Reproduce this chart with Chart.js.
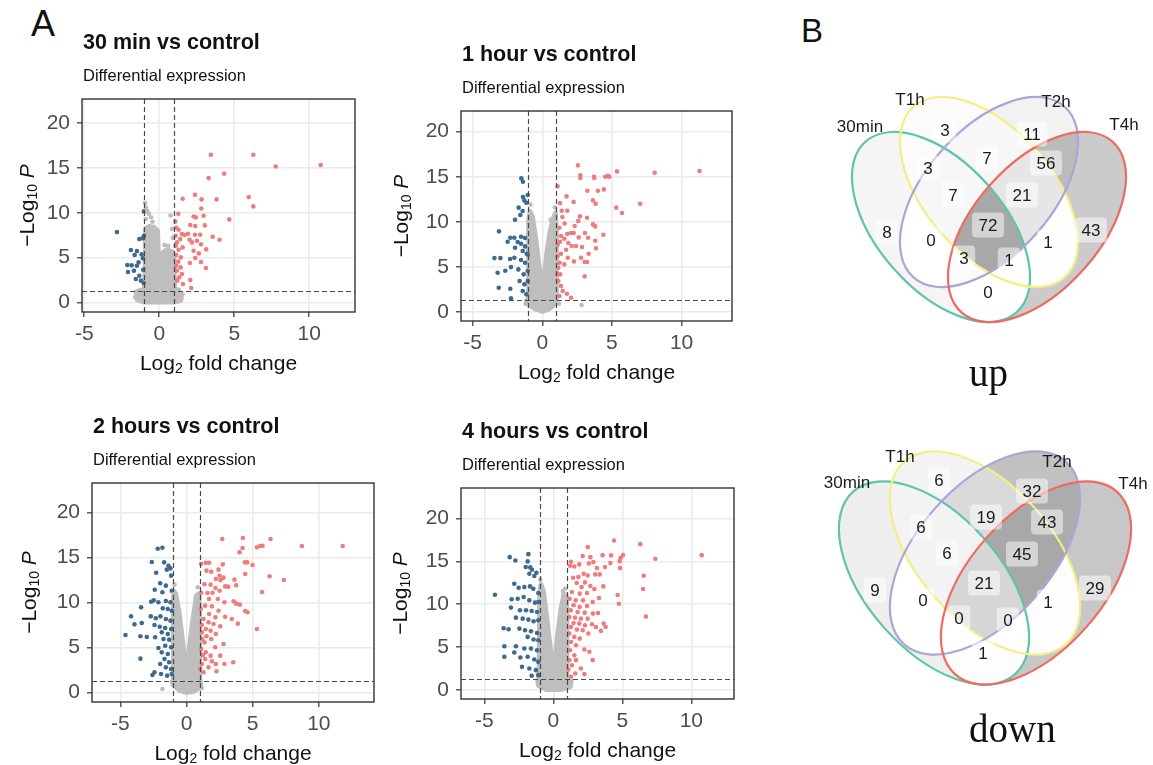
<!DOCTYPE html>
<html>
<head>
<meta charset="utf-8">
<title>Differential expression</title>
<script src="https://cdn.jsdelivr.net/npm/chart.js@4.4.1/dist/chart.umd.min.js"></script>
<style>
  body { margin: 0; background: #fff; }
  #fig { position: relative; width: 1153px; height: 765px; overflow: hidden; background: #fff; }
  #fig canvas { position: absolute; }
  .tag { position: absolute; line-height: 1; color: #111; font-family: "Liberation Sans", Arial, sans-serif; }
  .cap { position: absolute; line-height: 1; color: #111; font-family: "Liberation Serif", "Times New Roman", serif; font-size: 39px; }
</style>
</head>
<body>
<div id="fig">
  <div class="tag" style="left:31px;top:6px;font-size:36px">A</div>
  <div class="tag" style="left:801px;top:14px;font-size:33px">B</div>
  <canvas id="v30"></canvas>
  <canvas id="v1h"></canvas>
  <canvas id="v2h"></canvas>
  <canvas id="v4h"></canvas>
  <canvas id="vennUp"></canvas>
  <canvas id="vennDown"></canvas>
  <div class="cap" style="left:969px;top:353px">up</div>
  <div class="cap" style="left:969px;top:709px">down</div>
</div>

<script>
// ---- data ----

const xTicks = [-5, 0, 5, 10];
const yTicks = [0, 5, 10, 15, 20];
const fcCutoff = 1;      // |log2 FC|
const pCutoff = 1.3;     // -log10(0.05)

const titles = ["30 min vs control", "1 hour vs control", "2 hours vs control", "4 hours vs control"];
const subtitle = "Differential expression";

// 30 min
const up30 = [[3.44,16.47],[6.27,16.47],[7.76,15.17],[10.76,15.32],[4.33,14.35],[3.29,13.87],[1.56,11.56],[2.38,12.0],[2.82,11.49],[3.82,11.49],[5.96,11.75],[6.27,10.71],[1.27,9.89],[2.8,10.48],[2.29,9.59],[2.44,9.48],[2.96,9.67],[4.67,9.26],[1.07,9.03],[2.07,8.62],[2.4,8.51],[3.04,8.59],[1.13,8.33],[1.29,8.1],[1.91,7.66],[1.69,7.51],[1.51,7.62],[2.38,7.55],[2.73,7.55],[3.56,7.32],[4.02,6.99],[1.4,7.06],[2.02,6.99],[2.18,6.69],[2.51,6.88],[2.78,6.47],[3.13,5.91],[1.18,6.69],[1.56,6.13],[1.29,5.87],[2.29,5.76],[2.64,5.46],[1.13,5.28],[1.44,5.02],[2.4,4.94],[2.04,4.39],[2.78,4.5],[3.11,3.83],[1.27,4.54],[1.42,3.9],[1.18,3.53],[1.51,3.16],[1.33,2.79],[2.07,2.49],[1.58,2.04],[2.13,1.6],[1.2,2.42],[1.09,7.43],[1.09,6.32],[1.13,4.09]];
const down30 = [[-2.82,7.84],[-1.02,10.15],[-1.11,7.14],[-1.33,7.06],[-1.02,7.43],[-1.89,5.84],[-1.49,5.72],[-1.64,5.28],[-1.18,5.35],[-1.09,4.91],[-2.13,4.16],[-1.84,4.13],[-2.09,3.38],[-1.69,3.53],[-1.56,2.6],[-1.33,2.97],[-1.07,3.64],[-1.04,2.16],[-1.49,4.09],[-1.22,2.42],[-1.38,4.46]];
const ns30 = [[-0.95,11.1],[-0.88,10.6],[-0.8,10.2],[-0.7,9.9],[-0.55,9.5],[-0.9,9.3],[-0.45,9.0],[0.75,9.7],[0.85,8.2],[0.9,7.2],[0.35,6.4],[0.6,6.3],[-1.3,1.0],[-1.6,0.6],[1.5,0.5],[1.55,0.9],[-1.35,0.2],[1.3,1.4]];
const cloud30 = [[-0.93,8.2],[-0.7,8.5],[-0.35,8.4],[-0.1,8.0],[0.0,2.6],[0.12,2.8],[0.2,5.5],[0.5,5.9],[0.85,5.7],[1.0,5.0],[1.02,1.6],[1.4,1.1],[1.45,0.2],[1.0,0.0],[-1.0,0.0],[-1.5,0.3],[-1.55,1.2],[-1.0,1.5],[-0.95,4.0]];

// 1 hour
const up1h = [[2.56,16.26],[2.73,15.15],[2.73,14.85],[3.71,15.0],[3.73,14.85],[4.52,15.0],[4.71,15.11],[4.81,15.0],[5.36,15.59],[8.06,15.44],[11.29,15.63],[1.1,13.93],[3.23,13.44],[3.99,13.44],[4.42,13.59],[1.74,12.81],[1.27,12.07],[2.25,12.19],[3.64,12.37],[3.83,12.0],[5.31,11.56],[7.03,12.0],[5.72,10.96],[1.39,11.22],[1.79,11.22],[2.7,10.59],[3.21,10.44],[1.44,10.52],[2.58,10.07],[1.6,9.81],[3.64,9.7],[3.8,9.48],[1.22,9.33],[2.32,9.52],[2.06,8.74],[2.25,8.74],[1.79,8.63],[4.38,8.56],[3.06,8.74],[1.34,8.41],[2.61,8.26],[1.58,8.11],[3.28,8.22],[3.8,7.89],[2.42,7.3],[2.85,7.19],[3.85,7.04],[1.27,7.78],[1.87,7.63],[1.1,7.48],[2.11,7.3],[1.71,6.89],[3.33,6.44],[2.78,6.0],[2.27,5.59],[3.04,5.52],[3.21,5.52],[1.1,6.19],[1.34,6.44],[1.82,6.0],[1.24,5.44],[1.15,4.89],[3.04,3.93],[1.29,4.15],[1.15,3.41],[1.34,2.85],[1.46,2.3],[1.77,2.0],[2.06,1.56],[1.22,1.74],[1.1,4.15],[1.58,5.26]];
const down1h = [[-1.51,14.81],[-1.39,14.44],[-1.05,12.96],[-1.39,12.74],[-1.29,12.37],[-1.15,12.11],[-1.7,11.56],[-1.41,11.19],[-1.58,10.74],[-1.96,10.22],[-3.11,8.93],[-2.3,8.22],[-2.01,8.22],[-1.53,8.33],[-1.24,8.19],[-2.49,7.78],[-1.77,7.74],[-1.53,7.56],[-1.24,7.26],[-1.96,7.11],[-1.41,6.74],[-1.12,6.44],[-3.44,5.96],[-3.01,5.96],[-2.32,5.85],[-2.01,6.0],[-1.53,5.74],[-1.24,5.44],[-2.25,4.96],[-3.21,4.33],[-2.66,4.56],[-1.72,4.7],[-1.34,4.15],[-1.05,4.52],[-1.63,3.41],[-1.29,3.04],[-3.13,2.67],[-2.3,2.56],[-1.41,2.3],[-1.15,1.93],[-2.25,1.48],[-1.05,3.41],[-1.05,6.37]];
const ns1h = [[2.82,0.74],[-0.85,11.9],[0.9,11.6],[0.75,9.7],[-0.8,9.6],[-1.2,0.9],[1.2,0.9],[-0.95,10.6],[0.6,10.2]];
const cloud1h = [[-1.0,1.5],[-1.0,10.0],[-0.9,11.2],[-0.7,10.6],[-0.45,8.0],[-0.2,5.0],[-0.05,3.0],[0.1,3.5],[0.3,6.5],[0.55,9.0],[0.8,10.5],[0.95,11.0],[1.02,9.0],[1.02,1.5],[0.9,0.8],[0.5,0.3],[0.0,0.0],[-0.5,0.3],[-1.0,0.8],[-1.15,1.2]];

// 2 hours
const up2h = [[2.7,17.07],[4.26,17.19],[6.35,17.07],[4.24,16.07],[5.32,16.15],[5.57,16.3],[5.75,16.33],[8.72,16.3],[11.8,16.3],[4.01,15.59],[4.41,14.48],[4.59,14.48],[4.99,14.19],[1.11,14.33],[1.46,14.44],[1.71,14.44],[2.75,14.26],[1.51,13.56],[1.87,13.44],[2.42,13.67],[4.44,13.19],[6.28,12.93],[7.36,12.52],[2.5,12.99],[2.8,12.78],[2.22,12.63],[2.57,12.52],[2.92,11.81],[3.15,11.78],[3.63,12.56],[3.76,11.93],[1.82,12.0],[1.36,12.04],[2.19,11.63],[5.72,11.19],[1.11,11.11],[1.59,11.07],[1.97,11.11],[2.5,11.33],[1.71,10.41],[2.37,10.41],[2.87,10.04],[3.56,10.15],[3.76,9.89],[4.04,9.78],[4.44,9.07],[4.61,8.93],[1.41,9.67],[1.92,9.59],[1.08,9.3],[2.42,9.11],[1.71,8.74],[2.19,8.37],[2.92,8.44],[3.43,8.19],[1.29,8.19],[1.66,7.81],[2.04,7.63],[1.16,7.52],[3.88,7.67],[5.32,7.07],[2.55,7.37],[1.46,7.07],[1.82,6.89],[1.16,6.7],[2.22,6.52],[1.51,6.26],[1.87,5.96],[1.19,5.96],[1.36,5.59],[2.17,5.04],[2.8,5.41],[1.11,4.85],[1.46,4.48],[1.82,4.11],[1.24,4.19],[2.55,4.11],[1.41,3.74],[1.92,3.48],[2.22,3.19],[2.87,3.19],[3.53,3.37],[1.16,3.19],[1.66,2.81],[2.27,2.37],[1.29,2.26],[1.03,2.63]];
const down2h = [[-2.17,16.0],[-1.82,16.11],[-2.62,14.52],[-1.69,14.48],[-1.36,14.11],[-1.21,13.81],[-1.49,13.67],[-1.16,13.0],[-2.29,13.33],[-1.99,12.15],[-1.56,11.89],[-2.4,11.44],[-1.11,11.33],[-1.82,11.15],[-2.47,10.26],[-2.67,10.11],[-2.12,10.04],[-1.56,10.19],[-1.21,10.04],[-3.43,9.48],[-1.79,9.37],[-1.41,9.3],[-1.11,9.11],[-4.19,8.48],[-2.7,8.48],[-2.32,8.26],[-1.97,8.48],[-1.56,8.19],[-1.21,8.0],[-3.93,7.59],[-3.38,7.74],[-2.42,7.52],[-2.02,7.33],[-1.61,7.19],[-1.16,7.07],[-1.87,6.7],[-1.41,6.52],[-4.61,6.41],[-3.48,6.26],[-3.0,6.19],[-2.37,6.15],[-1.74,5.96],[-1.31,5.89],[-2.12,4.96],[-1.61,5.22],[-1.16,5.04],[-1.87,4.48],[-1.41,4.3],[-3.48,3.78],[-1.66,3.74],[-1.31,3.37],[-1.99,3.19],[-1.56,2.81],[-1.16,2.63],[-2.57,1.96],[-2.42,2.26],[-1.92,2.07],[-1.46,1.89],[-1.11,2.07]];
const ns2h = [[-1.82,0.41],[1.15,0.5],[1.1,1.0],[-0.9,12.0],[0.85,11.7],[-1.1,1.2],[-0.95,11.0],[0.7,10.6]];
const cloud2h = [[-1.0,1.5],[-1.0,10.5],[-0.95,11.3],[-0.8,11.0],[-0.55,9.0],[-0.3,6.0],[-0.1,3.5],[0.05,3.0],[0.2,5.0],[0.45,8.0],[0.75,10.8],[0.95,11.0],[1.0,9.5],[1.02,1.5],[1.1,0.6],[0.5,0.1],[0.0,0.0],[-0.5,0.2],[-1.05,0.9]];

// 4 hours
const up4h = [[4.4,17.44],[6.3,17.02],[2.49,16.67],[10.75,15.73],[7.39,15.31],[2.13,15.62],[2.68,15.5],[3.57,15.73],[4.18,15.7],[4.88,15.42],[5.05,15.73],[4.81,15.03],[1.28,14.96],[1.21,14.49],[1.52,14.41],[1.88,14.65],[2.58,14.76],[2.9,14.92],[3.16,14.22],[3.74,14.34],[4.13,14.8],[4.83,14.22],[2.2,13.56],[2.49,13.36],[3.04,13.48],[3.36,13.48],[6.55,13.33],[1.43,13.09],[1.81,13.17],[3.62,12.08],[2.97,11.77],[2.68,12.12],[2.29,12.55],[1.69,12.47],[6.5,11.77],[2.05,12.0],[1.35,11.42],[1.91,11.23],[2.44,11.31],[4.66,11.07],[3.31,10.72],[1.18,10.64],[1.62,10.45],[2.15,10.45],[2.85,10.26],[4.75,10.06],[1.47,9.87],[1.91,9.67],[2.44,9.79],[1.26,9.29],[1.76,9.09],[2.27,9.01],[2.87,8.9],[3.24,8.97],[6.71,8.55],[1.16,8.51],[1.57,8.43],[2.0,8.31],[2.49,8.31],[1.47,7.81],[1.88,7.73],[2.29,7.54],[2.8,7.65],[3.09,7.34],[3.65,7.73],[3.79,7.34],[3.45,6.88],[1.28,7.34],[1.71,7.03],[2.13,6.95],[2.54,6.57],[1.16,6.57],[1.52,6.18],[1.91,5.98],[1.28,5.59],[1.64,5.21],[2.25,4.7],[2.61,4.43],[1.21,4.62],[1.52,4.04],[1.16,3.46],[1.64,3.46],[2.85,3.46],[1.35,2.87],[2.0,2.49],[1.09,2.37],[1.59,1.9],[2.25,1.83],[1.28,1.52]];
const down4h = [[-3.16,15.5],[-1.81,15.85],[-2.75,15.11],[-1.86,15.0],[-2.0,14.34],[-1.67,14.3],[-1.55,14.03],[-1.23,13.68],[-1.38,13.29],[-1.74,13.56],[-2.83,12.39],[-2.51,11.93],[-2.1,12.0],[-1.69,12.08],[-1.45,11.81],[-1.09,11.31],[-4.23,11.11],[-3.02,10.57],[-2.58,10.64],[-2.15,10.84],[-1.74,10.45],[-1.33,10.18],[-1.09,10.26],[-3.07,9.6],[-2.42,9.29],[-1.98,9.29],[-1.57,9.21],[-1.18,9.09],[-2.71,8.43],[-2.22,8.31],[-1.81,8.2],[-1.43,8.0],[-1.09,8.12],[-3.6,7.19],[-3.24,7.07],[-2.46,7.15],[-2.05,6.95],[-1.62,6.84],[-1.18,6.64],[-1.86,6.18],[-1.43,5.87],[-1.09,5.79],[-3.55,5.09],[-2.71,5.09],[-2.1,4.82],[-1.62,4.82],[-1.18,4.62],[-3.55,3.85],[-2.83,4.35],[-2.39,3.77],[-1.86,3.85],[-1.38,3.54],[-1.09,3.26],[-2.27,2.68],[-1.74,2.49],[-1.26,2.29],[-1.57,1.63],[-1.09,1.71]];
const ns4h = [[-0.95,12.9],[0.85,11.8],[1.3,1.1],[-1.15,0.9],[1.25,0.4],[-0.98,11.8],[0.7,11.5]];
const cloud4h = [[-1.05,1.5],[-1.0,11.0],[-0.9,12.4],[-0.7,11.5],[-0.5,9.0],[-0.25,5.5],[-0.05,3.0],[0.1,3.0],[0.3,6.5],[0.55,9.5],[0.75,11.2],[0.95,11.0],[1.0,9.0],[1.0,1.5],[1.3,0.8],[1.2,0.3],[0.5,0.0],[-0.5,0.0],[-1.1,0.5]];

// Venn: region key = membership in [30min, T1h, T2h, T4h]
const vennSets = ["30min", "T1h", "T2h", "T4h"];
const regions = ["1000","0100","0010","0001","1100","1010","1001","0110","0101","0011","1110","1101","1011","0111","1111"];
const upCounts   = [8, 3, 11, 43, 3, 0, 0, 7, 1, 56, 7, 1, 3, 21, 72];
const downCounts = [9, 6, 32, 29, 6, 0, 1, 19, 1, 43, 6, 0, 0, 45, 21];

// ---- layout ----

const GREY = "#bebebe", BLUE = "#3e6a8f", RED = "#ef7c7c";
const SANS = "'Liberation Sans', Arial, sans-serif";
Chart.defaults.font.family = SANS;

// plot boxes in page px: [left, top, right, bottom]
const panels = [
  { id: "v30", box: [82, 99, 355, 312],  xr: [-5.15, 13.05], yr: [-1.08, 22.7],  yDx: 54, up: up30, down: down30, ns: ns30, cloud: cloud30 },
  { id: "v1h", box: [461, 111, 732, 321], xr: [-5.84, 13.62], yr: [-1.03, 22.3],  yDx: 59, up: up1h, down: down1h, ns: ns1h, cloud: cloud1h },
  { id: "v2h", box: [92, 483, 374, 702],  xr: [-7.14, 14.17], yr: [-1.04, 23.3],  yDx: 62, up: up2h, down: down2h, ns: ns2h, cloud: cloud2h },
  { id: "v4h", box: [461, 488, 734, 699], xr: [-6.69, 13.09], yr: [-1.08, 23.58], yDx: 60, up: up4h, down: down4h, ns: ns4h, cloud: cloud4h }
];
const PAD_L = 80, PAD_T = 75, PAD_R = 6, PAD_B = 68;

const vennLayouts = {
  up: {
    id: "vennUp", frame: [790, 70, 363, 290],
    ellipses: [[941, 227, 1], [989, 192, 1], [989, 192, -1], [1037, 227, -1]], a: 114, b: 63,
    setPos: [[860, 127], [910, 100], [1056, 102], [1124, 125]],
    labelPos: [[887,232],[945,130],[1032,134],[1091,230],[928,168],[931,240],[988,292],[987,158],[1048,242],[1046,163],[953,195],[1009,260],[964,258],[1022,195],[988,225]]
  },
  down: {
    id: "vennDown", frame: [790, 430, 363, 290],
    ellipses: [[934, 583, 1], [985, 553, 1], [985, 553, -1], [1036, 583, -1]], a: 122, b: 67,
    setPos: [[847, 483], [900, 457], [1057, 462], [1133, 484]],
    labelPos: [[875,590],[939,480],[1032,491],[1095,588],[921,527],[923,600],[983,653],[986,517],[1048,602],[1047,522],[947,553],[1008,620],[959,618],[1022,554],[984,583]]
  }
};
const setColors = ["#5fc4a9", "#f3ef84", "#aca5d8", "#ef6a5f"];

// ---- helpers ----

function toXY(arr) {
  return arr.map(p => ({ x: p[0], y: p[1] }));
}

// draws runs of text with different fonts / offsets, centred on x
function drawParts(ctx, parts, x, y) {
  let widths = parts.map(p => { ctx.font = p[1]; return ctx.measureText(p[0]).width; });
  let total = widths.reduce((s, w) => s + w, 0);
  let cx = x - total / 2;
  ctx.textAlign = "left";
  ctx.textBaseline = "middle";
  parts.forEach((p, i) => {
    ctx.font = p[1];
    ctx.fillText(p[0], cx, y + (p[2] || 0));
    cx += widths[i];
  });
}

function roundBox(ctx, x, y, w, h, r) {
  ctx.beginPath();
  ctx.moveTo(x + r, y);
  ctx.lineTo(x + w - r, y);
  ctx.quadraticCurveTo(x + w, y, x + w, y + r);
  ctx.lineTo(x + w, y + h - r);
  ctx.quadraticCurveTo(x + w, y + h, x + w - r, y + h);
  ctx.lineTo(x + r, y + h);
  ctx.quadraticCurveTo(x, y + h, x, y + h - r);
  ctx.lineTo(x, y + r);
  ctx.quadraticCurveTo(x, y, x + r, y);
  ctx.closePath();
}

// ---- volcano plots ----

function volcanoDecor(p, title) {
  return {
    id: "volcanoDecor",
    beforeDatasetsDraw(chart) {
      const { ctx, chartArea: a, scales: { x, y } } = chart;
      // dense block of non-significant genes
      ctx.save();
      ctx.beginPath();
      ctx.rect(a.left, a.top, a.width, a.height);
      ctx.clip();
      ctx.beginPath();
      p.cloud.forEach((v, i) => {
        let px = x.getPixelForValue(v[0]), py = y.getPixelForValue(v[1]);
        if (i) ctx.lineTo(px, py); else ctx.moveTo(px, py);
      });
      ctx.closePath();
      ctx.fillStyle = GREY;
      ctx.strokeStyle = GREY;
      ctx.lineWidth = 4.5;
      ctx.lineJoin = "round";
      ctx.fill();
      ctx.stroke();
      ctx.restore();
    },
    afterDatasetsDraw(chart) {
      const { ctx, chartArea: a, scales: { x, y } } = chart;
      ctx.save();
      ctx.strokeStyle = "#4a4a4a";
      ctx.lineWidth = 1.2;
      ctx.setLineDash([5, 3]);
      [-fcCutoff, fcCutoff].forEach(v => {
        let px = Math.round(x.getPixelForValue(v)) + 0.5;
        ctx.beginPath(); ctx.moveTo(px, a.top); ctx.lineTo(px, a.bottom); ctx.stroke();
      });
      let py = Math.round(y.getPixelForValue(pCutoff)) + 0.5;
      ctx.beginPath(); ctx.moveTo(a.left, py); ctx.lineTo(a.right, py); ctx.stroke();
      ctx.setLineDash([]);
      ctx.strokeStyle = "#333";
      ctx.lineWidth = 1.4;
      ctx.strokeRect(a.left, a.top, a.width, a.height);
      ctx.restore();
    },
    afterDraw(chart) {
      const { ctx, chartArea: a } = chart;
      ctx.save();
      ctx.fillStyle = "#111";
      ctx.textAlign = "left";
      ctx.textBaseline = "middle";
      ctx.font = `bold 21.5px ${SANS}`;
      ctx.fillText(title, a.left + 1, a.top - 56);
      ctx.font = `16.5px ${SANS}`;
      ctx.fillText(subtitle, a.left + 1, a.top - 23);

      drawParts(ctx, [["Log", `21px ${SANS}`], ["2", `14px ${SANS}`, 5.5], [" fold change", `21px ${SANS}`]],
        (a.left + a.right) / 2, a.bottom + 52);

      ctx.translate(a.left - p.yDx, (a.top + a.bottom) / 2);
      ctx.rotate(-Math.PI / 2);
      drawParts(ctx, [["\u2212Log", `21px ${SANS}`], ["10", `14px ${SANS}`, 5.5], [" ", `21px ${SANS}`], ["P", `italic 21px ${SANS}`]], 0, 0);
      ctx.restore();
    }
  };
}

function volcano(p, title) {
  const [L, T, R, B] = p.box;
  const el = document.getElementById(p.id);
  el.width = R - L + PAD_L + PAD_R;
  el.height = B - T + PAD_T + PAD_B;
  el.style.left = (L - PAD_L) + "px";
  el.style.top = (T - PAD_T) + "px";

  const axis = {
    grid: { color: "#ebebeb", lineWidth: 1.6, tickColor: "#333", tickLength: 5, tickWidth: 1.2 },
    border: { display: false },
    ticks: { color: "#4d4d4d", font: { size: 21 }, autoSkip: false, maxRotation: 0 }
  };

  new Chart(el, {
    type: "scatter",
    data: {
      datasets: [
        { data: toXY(p.ns), backgroundColor: GREY },
        { data: toXY(p.down), backgroundColor: BLUE },
        { data: toXY(p.up), backgroundColor: RED }
      ]
    },
    options: {
      responsive: false,
      animation: false,
      events: [],
      layout: { padding: { left: 0, top: PAD_T, right: PAD_R, bottom: 0 } },
      elements: { point: { radius: 2.3, borderWidth: 0, hoverRadius: 2.3 } },
      plugins: { legend: { display: false }, tooltip: { enabled: false } },
      scales: {
        x: Object.assign({}, axis, {
          type: "linear", min: p.xr[0], max: p.xr[1],
          ticks: Object.assign({}, axis.ticks, { padding: 5 }),
          afterBuildTicks: s => { s.ticks = xTicks.map(v => ({ value: v })); },
          afterFit: s => { s.height = PAD_B; }
        }),
        y: Object.assign({}, axis, {
          type: "linear", min: p.yr[0], max: p.yr[1],
          ticks: Object.assign({}, axis.ticks, { padding: 7 }),
          afterBuildTicks: s => { s.ticks = yTicks.map(v => ({ value: v })); },
          afterFit: s => { s.width = PAD_L; }
        })
      }
    },
    plugins: [volcanoDecor(p, title)]
  });
}

panels.forEach((p, i) => volcano(p, titles[i]));

// ---- Venn diagrams ----

function shade(n, max) {
  let v = Math.round(255 - 87 * n / max);
  return `rgb(${v},${v},${v})`;
}

function vennDecor(lay, counts) {
  const max = Math.max(...counts);
  return {
    id: "vennDecor",
    beforeDatasetsDraw(chart) {
      const { ctx, chartArea: a, scales: { x, y } } = chart;
      const ells = lay.ellipses.map(e => ({
        x: x.getPixelForValue(e[0]), y: y.getPixelForValue(e[1]), rot: e[2] * 48.5 * Math.PI / 180
      }));
      regions.forEach((key, i) => {
        ctx.save();
        key.split("").forEach((bit, j) => {
          ctx.beginPath();
          if (bit === "0") ctx.rect(a.left, a.top, a.width, a.height);
          ctx.ellipse(ells[j].x, ells[j].y, lay.a, lay.b, ells[j].rot, 0, Math.PI * 2);
          ctx.clip("evenodd");
        });
        ctx.fillStyle = shade(counts[i], max);
        ctx.fillRect(a.left, a.top, a.width, a.height);
        ctx.restore();
      });
      ctx.save();
      ctx.lineWidth = 2.2;
      ells.forEach((e, j) => {
        ctx.beginPath();
        ctx.ellipse(e.x, e.y, lay.a, lay.b, e.rot, 0, Math.PI * 2);
        ctx.strokeStyle = setColors[j];
        ctx.stroke();
      });
      ctx.restore();
    },
    afterDatasetsDraw(chart) {
      const { ctx, scales: { x, y } } = chart;
      const pts = chart.getDatasetMeta(0).data;
      ctx.save();
      ctx.font = `17px ${SANS}`;
      ctx.textAlign = "center";
      ctx.textBaseline = "middle";
      pts.forEach((pt, i) => {
        let txt = String(counts[i]);
        let w = ctx.measureText(txt).width + 13;
        ctx.fillStyle = "rgba(255,255,255,0.5)";
        roundBox(ctx, pt.x - w / 2, pt.y - 12.5, w, 25, 4);
        ctx.fill();
        ctx.fillStyle = "#1a1a1a";
        ctx.fillText(txt, pt.x, pt.y + 1);
      });
      vennSets.forEach((s, j) => {
        ctx.fillText(s, x.getPixelForValue(lay.setPos[j][0]), y.getPixelForValue(lay.setPos[j][1]));
      });
      ctx.restore();
    }
  };
}

function venn(lay, counts) {
  const [fx, fy, fw, fh] = lay.frame;
  const el = document.getElementById(lay.id);
  el.width = fw;
  el.height = fh;
  el.style.left = fx + "px";
  el.style.top = fy + "px";
  new Chart(el, {
    type: "scatter",
    data: {
      datasets: [{ data: lay.labelPos.map((q, i) => ({ x: q[0], y: q[1], n: counts[i] })), pointRadius: 0 }]
    },
    options: {
      responsive: false,
      animation: false,
      events: [],
      layout: { padding: 0 },
      plugins: { legend: { display: false }, tooltip: { enabled: false } },
      scales: {
        x: { type: "linear", display: false, min: fx, max: fx + fw },
        y: { type: "linear", display: false, reverse: true, min: fy, max: fy + fh }
      }
    },
    plugins: [vennDecor(lay, counts)]
  });
}

venn(vennLayouts.up, upCounts);
venn(vennLayouts.down, downCounts);
</script>
</body>
</html>
